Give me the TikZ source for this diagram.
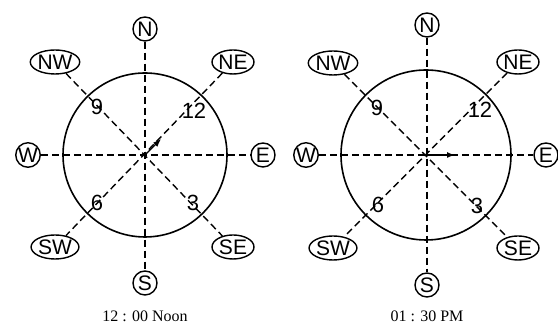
\documentclass[tikz,border=0pt]{standalone}
\usepackage{fontspec}
\setmainfont{Liberation Serif}
\setsansfont{Liberation Sans}
\usetikzlibrary{positioning, shapes.geometric, arrows.meta}

\begin{document}
\begin{tikzpicture}[
                x=0.5pt, y=-0.5pt,
                    point/.style = {circle, draw, line width=0.7pt, minimum size=12pt, inner sep=0pt, font=\sffamily\fontsize{10.5}{10.5}\selectfont},
                    corner/.style = {ellipse, draw, line width=0.7pt, minimum width=21pt, minimum height=12pt, inner sep=0pt, font=\sffamily\fontsize{10.5}{10.5}\selectfont},
                    hour/.style = {inner sep=0pt, font=\sffamily\fontsize{11}{11}\selectfont},
                    ring/.style = {draw, line width=0.8pt},
                    dashline/.style = {draw, line width=0.7pt, dash pattern=on 3.5pt off 2pt},
                    hand/.style = {line width=0.7pt, -{Latex[length=4pt, width=3pt]}},
                    caption/.style = {font=\fontsize{8}{8}\selectfont}
                ]

                \useasboundingbox (0,0) rectangle (558,324);

                % 12:00 noon
                \coordinate (lc) at (145,155);
                \node[point] (lN) at (145,29) {N};
                \node[point] (lS) at (145,283) {S};
                \node[point] (lW) at (28,155) {W};
                \node[point] (lE) at (263,155) {E};
                \node[corner] (lNW) at (55,62) {NW};
                \node[corner] (lNE) at (233,62) {NE};
                \node[corner] (lSW) at (55,247) {SW};
                \node[corner] (lSE) at (233,247) {SE};

                \draw[ring] (lc) circle (82);
                \draw[dashline] (lN) -- (lS);
                \draw[dashline] (lW) -- (lE);
                \draw[dashline] (lNW) -- (lSE);
                \draw[dashline] (lNE) -- (lSW);

                \node[hour] (l9) at (97,107) {9};
                \node[hour] (l12) at (194,111) {12};
                \node[hour] (l6) at (97,203) {6};
                \node[hour] (l3) at (193,203) {3};

                \coordinate (ltip) at (161,139);
                \draw[hand] (lc) -- (ltip);
                \node[caption, below=4pt of lS] (lcap) {12 : 00 Noon};

                % 01:30 pm
                \coordinate (rc) at (426,155);
                \node[point] (rN) at (427,25) {N};
                \node[point] (rS) at (427,285) {S};
                \node[point] (rW) at (306,155) {W};
                \node[point] (rE) at (546,155) {E};
                \node[corner] (rNW) at (333,63) {NW};
                \node[corner] (rNE) at (518,62) {NE};
                \node[corner] (rSW) at (333,248) {SW};
                \node[corner] (rSE) at (518,248) {SE};

                \draw[ring] (rc) circle (85);
                \draw[dashline] (rN) -- (rS);
                \draw[dashline] (rW) -- (rE);
                \draw[dashline] (rNW) -- (rSE);
                \draw[dashline] (rNE) -- (rSW);

                \node[hour] (r9) at (377,108) {9};
                \node[hour] (r12) at (480,110) {12};
                \node[hour] (r6) at (378,205) {6};
                \node[hour] (r3) at (477,206) {3};

                \coordinate (rtip) at (455,155);
                \draw[hand] (rc) -- (rtip);
                \node[caption, below=3pt of rS] (rcap) {01 : 30 PM};

            \end{tikzpicture}
\end{document}
